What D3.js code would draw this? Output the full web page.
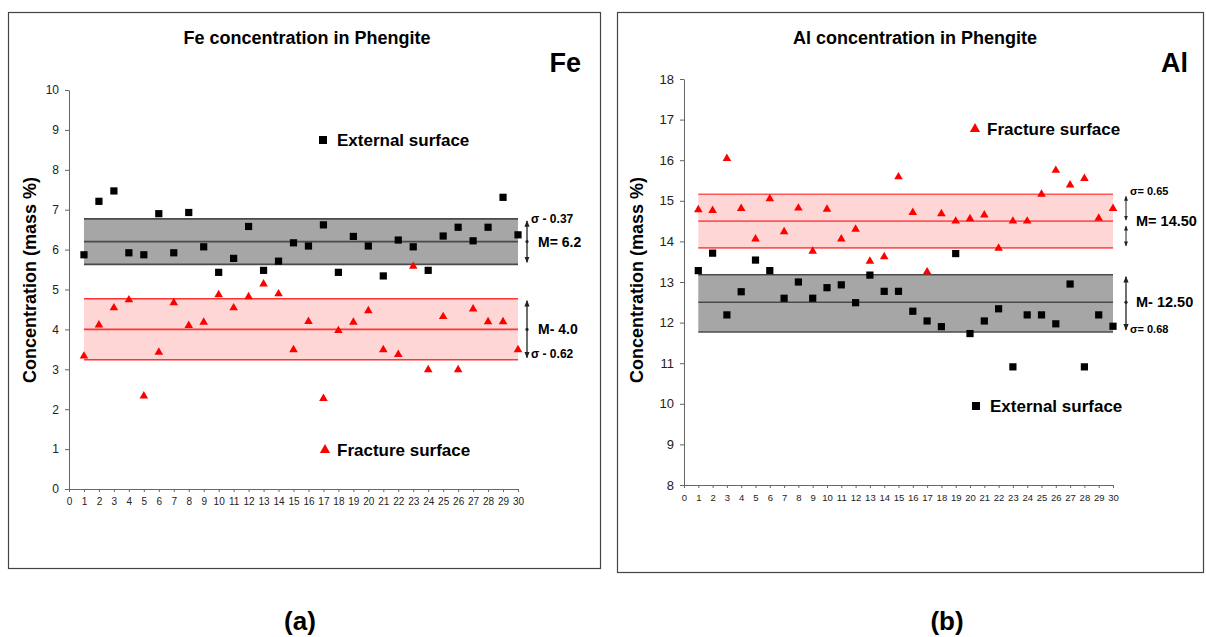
<!DOCTYPE html>
<html>
<head>
  <meta charset="utf-8">
  <style>
    body { margin: 0; background: #fff; }
    svg { font-family: "Liberation Sans", Arial, sans-serif; }
    .frame { fill: none; stroke: #444; stroke-width: 1.2; }
    .axis path, .axis line { stroke: #666; }
    .axis text { fill: #222; }
    .title { font-weight: bold; font-size: 18px; }
    .tag { font-weight: bold; font-size: 27px; }
    .ylab { font-weight: bold; font-size: 18px; }
    .legend { font-weight: bold; font-size: 17px; }
    .note { font-weight: bold; }
    .caption { font-weight: bold; font-size: 26px; }
  </style>
  <script src="https://d3js.org/d3.v7.min.js"></script>
</head>
<body>
<script>
// sample number on the x axis
var samples = [1, 2, 3, 4, 5, 6, 7, 8, 9, 10, 11, 12, 13, 14, 15,
               16, 17, 18, 19, 20, 21, 22, 23, 24, 25, 26, 27, 28, 29, 30];

// Fe (mass %)
var feExternal = [5.87, 7.21, 7.47, 5.92, 5.87, 6.90, 5.92, 6.93, 6.07, 5.43,
                  5.78, 6.58, 5.48, 5.71, 6.17, 6.09, 6.62, 5.43, 6.33, 6.09,
                  5.34, 6.24, 6.07, 5.48, 6.34, 6.56, 6.22, 6.56, 7.31, 6.37];
var feFracture = [3.33, 4.11, 4.54, 4.74, 2.33, 3.43, 4.67, 4.10, 4.18, 4.87,
                  4.54, 4.82, 5.14, 4.89, 3.49, 4.20, 2.27, 3.97, 4.18, 4.47,
                  3.49, 3.37, 5.58, 2.99, 4.32, 2.99, 4.51, 4.19, 4.19, 3.49];
// band: low, mean, high
var feExternalBand = [5.63, 6.2, 6.77];
var feFractureBand = [3.24, 4.0, 4.77];

// Al (mass %)
var alExternal = [13.28, 13.71, 12.19, 12.76, 13.54, 13.28, 12.60, 13.00, 12.60, 12.86,
                  12.93, 12.49, 13.17, 12.77, 12.77, 12.28, 12.04, 11.90, 13.70, 11.73,
                  12.04, 12.34, 10.91, 12.19, 12.19, 11.97, 12.95, 10.91, 12.19, 11.91];
var alFracture = [14.78, 14.76, 16.04, 14.81, 14.06, 15.05, 14.24, 14.82, 13.76, 14.79,
                  14.06, 14.30, 13.51, 13.62, 15.59, 14.71, 13.25, 14.68, 14.50, 14.56,
                  14.65, 13.83, 14.50, 14.50, 15.16, 15.75, 15.39, 15.55, 14.57, 14.81];
var alFractureBand = [13.84, 14.5, 15.16];
var alExternalBand = [11.77, 12.5, 13.18];

var feYTicks = [0, 1, 2, 3, 4, 5, 6, 7, 8, 9, 10];
var alYTicks = [8, 9, 10, 11, 12, 13, 14, 15, 16, 17, 18];
var xTicks = [0, 1, 2, 3, 4, 5, 6, 7, 8, 9, 10, 11, 12, 13, 14, 15,
              16, 17, 18, 19, 20, 21, 22, 23, 24, 25, 26, 27, 28, 29, 30];

var svg = d3.select("body").append("svg")
    .attr("width", 1206)
    .attr("height", 637);

var defs = svg.append("defs");
defs.append("marker")
    .attr("id", "arr")
    .attr("viewBox", "0 0 10 10")
    .attr("refX", 9).attr("refY", 5)
    .attr("markerWidth", 5).attr("markerHeight", 5)
    .attr("orient", "auto-start-reverse")
  .append("path")
    .attr("d", "M0,1 L10,5 L0,9 Z")
    .attr("fill", "#222");

var square = d3.symbol().type(d3.symbolSquare).size(52);
var triangle = d3.symbol().type(d3.symbolTriangle).size(32);

function drawPanel(o) {
  var g = svg.append("g");

  g.append("rect").attr("class", "frame")
    .attr("x", o.frame[0]).attr("y", o.frame[1])
    .attr("width", o.frame[2]).attr("height", o.frame[3]);

  var x = d3.scaleLinear().domain([0, 30]).range(o.xRange);
  var y = d3.scaleLinear().domain(o.yDomain).range(o.yRange);

  // bands (from sample 1 to 30)
  o.bands.forEach(function(b) {
    g.append("rect")
      .attr("x", x(1)).attr("width", x(30) - x(1))
      .attr("y", y(b.v[2])).attr("height", y(b.v[0]) - y(b.v[2]))
      .attr("fill", b.fill);
    b.v.forEach(function(v) {
      g.append("line")
        .attr("x1", x(1)).attr("x2", x(30))
        .attr("y1", y(v)).attr("y2", y(v))
        .attr("stroke", b.line).attr("stroke-width", 1.6);
    });

    // bracket + labels on the right
    var bx = x(30) + o.bracketGap;
    var top = y(b.v[2]) + 2, bot = y(b.v[0]) - 2, mid = y(b.v[1]);
    if (b.split) {
      g.append("line").attr("x1", bx).attr("x2", bx).attr("y1", top).attr("y2", mid - 1)
        .attr("stroke", "#222").attr("marker-start", "url(#arr)").attr("marker-end", "url(#arr)");
      g.append("line").attr("x1", bx).attr("x2", bx).attr("y1", mid + 5).attr("y2", bot)
        .attr("stroke", "#222").attr("marker-start", "url(#arr)").attr("marker-end", "url(#arr)");
    } else {
      g.append("line").attr("x1", bx).attr("x2", bx).attr("y1", top).attr("y2", bot)
        .attr("stroke", "#222").attr("stroke-width", 1.3)
        .attr("marker-start", "url(#arr)").attr("marker-end", "url(#arr)");
      g.append("circle").attr("cx", bx).attr("cy", mid).attr("r", 1.6).attr("fill", "#222");
    }
    g.append("text").attr("class", "note")
      .attr("x", bx + o.meanDx).attr("y", mid).attr("dy", "0.35em")
      .style("font-size", o.meanSize + "px")
      .text(b.mean);
    g.append("text").attr("class", "note")
      .attr("x", bx + 4)
      .attr("y", b.sigmaAt === "top" ? y(b.v[2]) + o.sigmaTopDy : y(b.v[0]) + o.sigmaBotDy)
      .attr("dy", "0.35em")
      .style("font-size", o.sigmaSize + "px")
      .text(b.sigma);
  });

  // axes
  g.append("g").attr("class", "axis")
    .attr("transform", "translate(" + o.xRange[0] + ",0)")
    .call(d3.axisLeft(y).tickValues(o.yTicks).tickSize(4).tickSizeOuter(0).tickPadding(6))
    .call(function(a) { a.selectAll("text").style("font-size", o.yTickSize + "px"); });

  g.append("g").attr("class", "axis")
    .attr("transform", "translate(0," + o.yRange[0] + ")")
    .call(d3.axisBottom(x).tickValues(xTicks).tickSize(3).tickSizeOuter(0).tickPadding(6))
    .call(function(a) { a.selectAll("text").style("font-size", o.xTickSize + "px"); });

  // points
  g.selectAll(".sq").data(o.external).enter().append("path")
    .attr("class", "sq")
    .attr("d", square)
    .attr("transform", function(d, i) { return "translate(" + x(samples[i]) + "," + y(d) + ")"; })
    .attr("fill", "#000");
  g.selectAll(".tri").data(o.fracture).enter().append("path")
    .attr("class", "tri")
    .attr("d", triangle)
    .attr("transform", function(d, i) { return "translate(" + x(samples[i]) + "," + y(d) + ")"; })
    .attr("fill", "#ff0000");

  // texts
  g.append("text").attr("class", "title")
    .attr("x", o.titlePos[0]).attr("y", o.titlePos[1])
    .attr("text-anchor", "middle").text(o.title);
  g.append("text").attr("class", "tag")
    .attr("x", o.tagPos[0]).attr("y", o.tagPos[1])
    .attr("text-anchor", "end").text(o.tag);
  g.append("text").attr("class", "ylab")
    .attr("transform", "translate(" + o.ylabPos[0] + "," + o.ylabPos[1] + ") rotate(-90)")
    .attr("text-anchor", "middle").attr("dy", "0.35em")
    .text("Concentration (mass %)");

  // legends
  var le = g.append("g").attr("transform", "translate(" + o.legExt[0] + "," + o.legExt[1] + ")");
  le.append("path").attr("d", d3.symbol().type(d3.symbolSquare).size(64)).attr("fill", "#000");
  le.append("text").attr("class", "legend").attr("x", 14).attr("dy", "0.35em").text("External surface");
  var lf = g.append("g").attr("transform", "translate(" + o.legFrac[0] + "," + o.legFrac[1] + ")");
  lf.append("path").attr("d", d3.symbol().type(d3.symbolTriangle).size(45)).attr("fill", "#ff0000");
  lf.append("text").attr("class", "legend").attr("x", 12).attr("dy", "0.35em").text("Fracture surface");

  svg.append("text").attr("class", "caption")
    .attr("x", o.caption[0]).attr("y", o.caption[1])
    .attr("text-anchor", "middle").attr("dy", "0.35em").text(o.captionText);
}

drawPanel({
  frame: [8.5, 12.5, 592, 556],
  xRange: [69, 518], yDomain: [0, 10], yRange: [489, 90],
  yTicks: feYTicks, yTickSize: 12, xTickSize: 10,
  external: feExternal, fracture: feFracture,
  bands: [
    { v: feExternalBand, fill: "#a6a6a6", line: "#4a4a4a", mean: "M= 6.2", sigma: "\u03c3 - 0.37", sigmaAt: "top" },
    { v: feFractureBand, fill: "#ffd6d6", line: "#ff3333", mean: "M- 4.0", sigma: "\u03c3 - 0.62", sigmaAt: "bottom" }
  ],
  bracketGap: 9, meanDx: 11, meanSize: 14, sigmaSize: 12,
  sigmaTopDy: 0, sigmaBotDy: -6,
  title: "Fe concentration in Phengite", titlePos: [307, 44],
  tag: "Fe", tagPos: [581, 72],
  ylabPos: [30, 280],
  legExt: [323, 140], legFrac: [325, 450],
  caption: [300, 621], captionText: "(a)"
});

drawPanel({
  frame: [617.5, 12.5, 586, 560],
  xRange: [684, 1113], yDomain: [8, 18], yRange: [485, 79],
  yTicks: alYTicks, yTickSize: 13, xTickSize: 9.5,
  external: alExternal, fracture: alFracture,
  bands: [
    { v: alFractureBand, fill: "#ffd6d6", line: "#ff5555", mean: "M= 14.50", sigma: "\u03c3= 0.65", sigmaAt: "top", split: true },
    { v: alExternalBand, fill: "#a6a6a6", line: "#4a4a4a", mean: "M- 12.50", sigma: "\u03c3= 0.68", sigmaAt: "bottom" }
  ],
  bracketGap: 13, meanDx: 10, meanSize: 14.5, sigmaSize: 11,
  sigmaTopDy: -3, sigmaBotDy: -3,
  title: "Al concentration in Phengite", titlePos: [915, 44],
  tag: "Al", tagPos: [1188, 72],
  ylabPos: [637, 280],
  legExt: [976, 406], legFrac: [975, 129],
  caption: [947, 621], captionText: "(b)"
});
</script>
</body>
</html>
